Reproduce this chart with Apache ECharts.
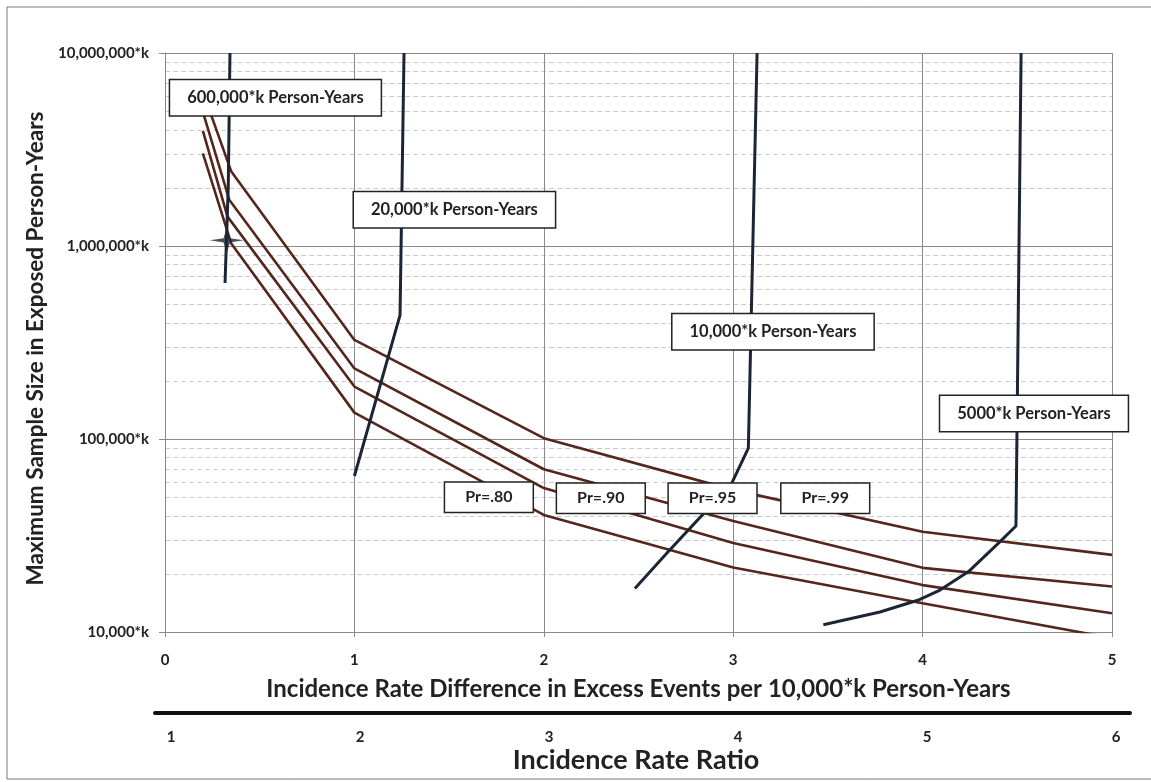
<!DOCTYPE html>
<html>
<head>
<meta charset="utf-8">
<script src="https://cdn.jsdelivr.net/npm/echarts@6/dist/echarts.min.js"></script>
<style>
  html, body { margin: 0; padding: 0; background: #ffffff; }
  #chart { width: 1151px; height: 782px; }
</style>
</head>
<body>
<div id="chart"></div>
<script>
// Axis tick values
const rateDiffTicks = [0, 1, 2, 3, 4, 5];
const rateRatioTicks = [1, 2, 3, 4, 5, 6];
const sampleSizeTicks = [10000, 100000, 1000000, 10000000];
const minorSampleTicks = [
  20000, 30000, 40000, 50000, 60000, 70000, 80000, 90000,
  200000, 300000, 400000, 500000, 600000, 700000, 800000, 900000,
  2000000, 3000000, 4000000, 5000000, 6000000, 7000000, 8000000, 9000000
];

// Maximum sample size vs. incidence rate difference, by power level
// [rate difference, person-years]
const pr80 = [[0.2, 3020000], [0.35, 1030000], [1, 137000], [2, 40400], [3, 21600], [4, 14100], [5, 9300]];
const pr90 = [[0.2, 3950000], [0.33, 1420000], [1, 187000], [2, 55700], [3, 28900], [4, 17500], [5, 12500]];
const pr95 = [[0.2, 4950000], [0.34, 1730000], [1, 232000], [2, 69700], [3, 37600], [4, 21500], [5, 17200]];
const pr99 = [[0.2, 6300000], [0.35, 2430000], [1, 326000], [2, 101000], [3, 54500], [4, 33100], [5, 25100]];

// Constant total person-years contours
const py600k = [[0.343, 10000000], [0.334, 2030000], [0.317, 643000]];
const py20k = [[1.262, 10000000], [1.241, 438000], [1.0, 64300]];
const py10k = [[3.126, 10000000], [3.080, 89600], [2.992, 58900], [2.649, 25600], [2.481, 16800]];
const py5k = [[4.520, 10000000], [4.493, 35400], [4.409, 29400], [4.241, 20500], [4.092, 16500],
              [3.983, 14700], [3.775, 12700], [3.476, 10900]];

// Highlighted design point
const designPoint = [[0.326, 1070000]];

const FONT = 'Lato, "Open Sans", "DejaVu Sans", sans-serif';
const BROWN = '#55261b';
const NAVY = '#1c2536';
const INK = '#222222';

function boxLabel(text, padding, size) {
  return {
    show: true,
    position: 'inside',
    formatter: text,
    backgroundColor: '#ffffff',
    borderColor: INK,
    borderWidth: 1.5,
    padding: padding,
    fontFamily: FONT,
    fontSize: size,
    fontWeight: 'bold',
    lineHeight: 17,
    color: INK
  };
}

function annotation(text, coord, padding, size) {
  return {
    silent: true,
    symbol: 'rect',
    symbolSize: 1,
    itemStyle: { color: 'rgba(0,0,0,0)' },
    label: boxLabel(text, padding, size),
    data: [{ coord: coord }]
  };
}

function powerCurve(name, data, labelCoord) {
  return {
    name: name,
    type: 'line',
    xAxisIndex: 0,
    yAxisIndex: 0,
    data: data,
    showSymbol: false,
    silent: true,
    z: 2,
    lineStyle: { color: BROWN, width: 2.6 },
    markPoint: annotation(name, labelCoord, [6, 20], 16)
  };
}

function personYearCurve(name, data, labelCoord) {
  return {
    name: name,
    type: 'line',
    xAxisIndex: 0,
    yAxisIndex: 0,
    data: data,
    showSymbol: false,
    silent: true,
    z: 3,
    lineStyle: { color: NAVY, width: 3 },
    markPoint: annotation(name, labelCoord, [9, 17], 16.5)
  };
}

const chart = echarts.init(document.getElementById('chart'), null, { renderer: 'canvas' });

chart.setOption({
  backgroundColor: '#ffffff',
  animation: false,
  textStyle: { fontFamily: FONT },
  graphic: [{
    type: 'rect',
    silent: true,
    shape: { x: 7, y: 7, width: 1170, height: 772 },
    style: { fill: 'none', stroke: '#777777', lineWidth: 1 }
  }],
  grid: [
    { left: 165, right: 39, top: 53, bottom: 150 },
    { left: 155, right: 21, top: 700, height: 13 }
  ],
  xAxis: [
    {
      gridIndex: 0,
      type: 'value',
      min: 0,
      max: 5,
      interval: 1,
      name: 'Incidence Rate Difference in Excess Events per 10,000*k Person-Years',
      nameLocation: 'middle',
      nameGap: 45,
      nameTextStyle: { fontFamily: FONT, fontSize: 24, fontWeight: 'bold', color: INK },
      axisLine: { show: true, lineStyle: { color: '#888888', width: 1 } },
      axisTick: { show: true, length: 5, lineStyle: { color: '#888888' } },
      axisLabel: {
        customValues: rateDiffTicks,
        fontFamily: FONT, fontSize: 15, fontWeight: 'bold', color: INK, margin: 21
      },
      splitLine: { show: true, lineStyle: { color: '#8a8a8a', width: 1 } }
    },
    {
      gridIndex: 1,
      type: 'value',
      min: 0.915,
      max: 6.074,
      name: 'Incidence Rate Ratio',
      nameLocation: 'middle',
      nameGap: 34,
      nameTextStyle: {
        fontFamily: FONT, fontSize: 27, fontWeight: 'bold', color: INK,
        padding: [0, 13, 0, 0]
      },
      axisLine: { show: true, lineStyle: { color: '#111111', width: 4 } },
      axisTick: { show: false },
      axisLabel: {
        customValues: rateRatioTicks,
        fontFamily: FONT, fontSize: 15, fontWeight: 'bold', color: INK, margin: 17
      },
      splitLine: { show: false }
    }
  ],
  yAxis: [
    {
      gridIndex: 0,
      type: 'log',
      logBase: 10,
      min: 10000,
      max: 10000000,
      name: 'Maximum Sample Size in Exposed Person-Years',
      nameLocation: 'middle',
      nameGap: 116,
      nameRotate: 90,
      nameTextStyle: {
        fontFamily: FONT, fontSize: 22.5, fontWeight: 'bold', color: INK,
        padding: [0, 12, 0, 0]
      },
      axisLine: { show: true, lineStyle: { color: '#888888', width: 1 } },
      axisTick: { show: true, customValues: sampleSizeTicks, length: 6, lineStyle: { color: '#888888' } },
      axisLabel: {
        customValues: sampleSizeTicks,
        fontFamily: FONT, fontSize: 15, fontWeight: 'bold', color: INK, margin: 16,
        formatter: function (v) { return Math.round(v).toLocaleString('en-US') + '*k'; }
      },
      splitLine: { show: true, lineStyle: { color: '#8a8a8a', width: 1 } }
    },
    {
      gridIndex: 0,
      type: 'log',
      logBase: 10,
      min: 10000,
      max: 10000000,
      position: 'left',
      axisLine: { show: false },
      axisLabel: { show: false },
      axisTick: { show: false, customValues: minorSampleTicks },
      splitLine: { show: true, lineStyle: { color: '#cccccc', width: 1, type: [5, 3] } }
    },
    { gridIndex: 1, type: 'value', show: false }
  ],
  series: [
    powerCurve('Pr=.80', pr80, [1.71, 49900]),
    powerCurve('Pr=.90', pr90, [2.301, 49300]),
    powerCurve('Pr=.95', pr95, [2.891, 49300]),
    powerCurve('Pr=.99', pr99, [3.486, 49300]),
    personYearCurve('600,000*k Person-Years', py600k, [0.583, 5860000]),
    personYearCurve('20,000*k Person-Years', py20k, [1.528, 1540000]),
    personYearCurve('10,000*k Person-Years', py10k, [3.21, 360000]),
    personYearCurve('5000*k Person-Years', py5k, [4.588, 135500]),
    {
      name: 'design point',
      type: 'scatter',
      xAxisIndex: 0,
      yAxisIndex: 0,
      data: designPoint,
      silent: true,
      z: 6,
      symbol: 'path://M0,12 L13,10 L16,0 L19,10 L32,12 L19,14 L16,24 L13,14 Z',
      symbolKeepAspect: false,
      symbolSize: [34, 26],
      itemStyle: { color: NAVY }
    }
  ]
});
</script>
</body>
</html>
